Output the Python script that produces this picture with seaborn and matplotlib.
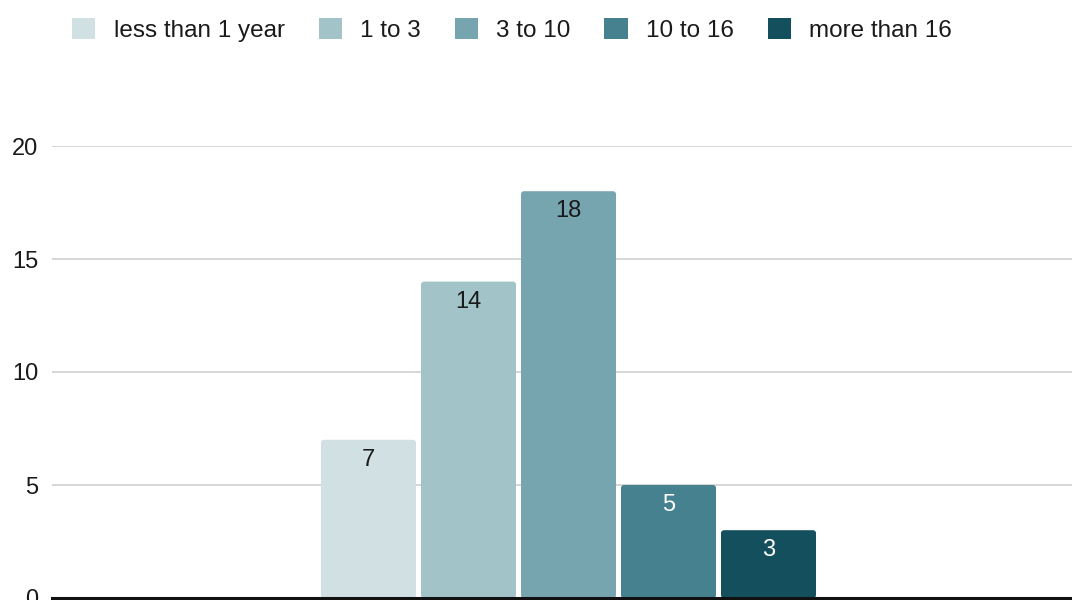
import matplotlib
matplotlib.use("Agg")
import matplotlib.pyplot as plt
from matplotlib.patches import FancyBboxPatch
import seaborn as sns
import pandas as pd

# Tenure groups and respondent counts
groups = ["less than 1 year", "1 to 3", "3 to 10", "10 to 16", "more than 16"]
counts = [7, 14, 18, 5, 3]
colors = ["#d0e0e3", "#a2c4c9", "#76a5af", "#45818e", "#134f5c"]
label_colors = ["#1a1a1a", "#1a1a1a", "#1a1a1a", "#ffffff", "#ffffff"]
y_ticks = [0, 5, 10, 15, 20]

df = pd.DataFrame({"series": [""] * len(groups), "tenure": groups, "count": counts})

sns.set_theme(style="white")
plt.rcParams["font.family"] = ["Liberation Sans", "DejaVu Sans"]

fig = plt.figure(figsize=(10.72, 6.0), dpi=100)
ax = fig.add_axes([52 / 1072, 2 / 600, (1085 - 52) / 1072, (598 - 146) / 600])

sns.barplot(data=df, x="series", y="count", hue="tenure", hue_order=groups,
            palette=colors, width=0.5, gap=0.05, saturation=1, ax=ax,
            edgecolor="none", linewidth=0)

ax.set_xlim(-0.5165, 0.5165)
ax.set_ylim(0, 20)
ax.set_yticks(y_ticks)
ax.set_xticks([])
ax.set_xlabel("")
ax.set_ylabel("")
ax.tick_params(axis="y", length=0, pad=10, labelsize=17, labelcolor="#1a1a1a")
ax.yaxis.grid(True, color="#cccccc", linewidth=1.1)
ax.set_axisbelow(True)
for side in ["left", "right", "top"]:
    ax.spines[side].set_visible(False)
ax.spines["bottom"].set_color("#111111")
ax.spines["bottom"].set_linewidth(2.2)
ax.spines["bottom"].set_zorder(5)

# Soften the bar corners: swap each rectangle for a rounded box of the same extent
x_px = fig.get_size_inches()[0] * fig.dpi * ax.get_position().width / (ax.get_xlim()[1] - ax.get_xlim()[0])
y_px = fig.get_size_inches()[1] * fig.dpi * ax.get_position().height / (ax.get_ylim()[1] - ax.get_ylim()[0])
radius_px = 3.0
for container in ax.containers:
    for patch in container:
        x0, y0 = patch.get_x(), patch.get_y()
        w, h = patch.get_width(), patch.get_height()
        rounded = FancyBboxPatch((x0, y0), w, h,
                                 boxstyle=f"round,pad=0,rounding_size={radius_px / x_px}",
                                 mutation_aspect=x_px / y_px,
                                 facecolor=patch.get_facecolor(), edgecolor="none",
                                 zorder=patch.get_zorder())
        patch.set_visible(False)
        ax.add_patch(rounded)

# Value labels just inside the top of each bar
for container, val, tc in zip(ax.containers, counts, label_colors):
    for patch in container:
        cx = patch.get_x() + patch.get_width() / 2
        ax.annotate(str(val), xy=(cx, val), xytext=(0, -14.5), textcoords="offset points",
                    ha="center", va="center", fontsize=17, color=tc, zorder=6)

handles, labels = ax.get_legend_handles_labels()
if ax.legend_:
    ax.legend_.remove()
fig.legend(handles, labels, loc="center", bbox_to_anchor=(512 / 1072, 1 - 30 / 600),
           ncol=5, frameon=False, fontsize=17.5, handlelength=0.95, handleheight=0.95,
           handletextpad=0.75, columnspacing=1.4, labelcolor="#1a1a1a")

fig.savefig("out.png", dpi=100)
